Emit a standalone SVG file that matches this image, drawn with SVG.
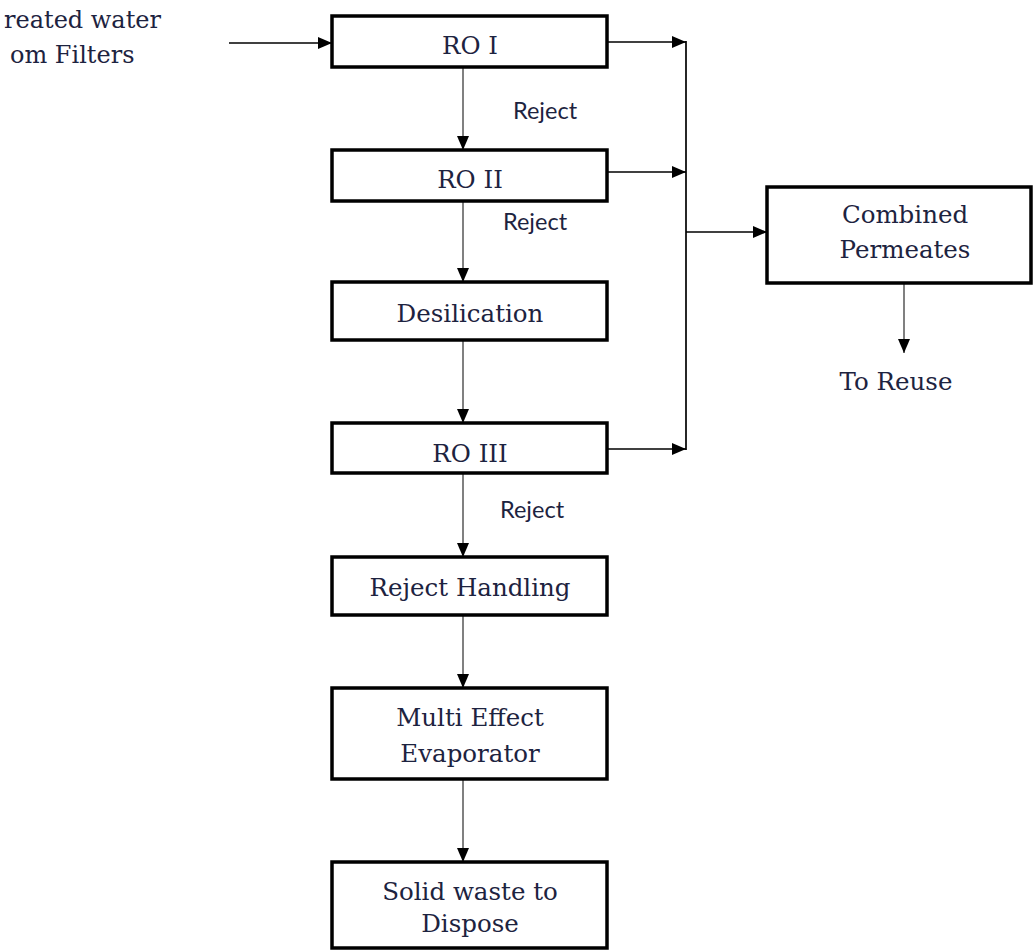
<svg xmlns="http://www.w3.org/2000/svg" width="1034" height="951" viewBox="0 0 1034 951">
<style>
.box{fill:#fff;stroke:#000;stroke-width:3.5}
.t{font-family:"DejaVu Serif","Liberation Serif",serif;font-size:24.5px;fill:#1d2340;text-anchor:middle}
.tl{font-family:"DejaVu Serif","Liberation Serif",serif;font-size:24px;fill:#1d2340}
.r{font-family:Lato,"Liberation Sans",sans-serif;font-size:23.5px;fill:#1d2340}
.v{stroke:#6a6a6a;stroke-width:1.7;fill:none}
.h{stroke:#000;stroke-width:1.7;fill:none}
</style>
<defs>
<marker id="ah" viewBox="0 0 14 12" refX="14" refY="6" markerWidth="14" markerHeight="12" markerUnits="userSpaceOnUse" orient="auto">
<path d="M0,0 L14,6 L0,12 z" fill="#000"/>
</marker>
</defs>
<g id="input">
<text class="tl" x="4" y="28">reated water</text>
<text class="tl" x="10" y="63">om Filters</text>
</g>
<g id="connectors">
<path class="h" d="M229,43 H332" marker-end="url(#ah)"/>
<path class="h" d="M607,42 H686" marker-end="url(#ah)"/>
<path class="h" d="M607,172 H686" marker-end="url(#ah)"/>
<path class="h" d="M607,449 H686" marker-end="url(#ah)"/>
<path class="h" d="M686,41 V450"/>
<path class="h" d="M686,232 H767" marker-end="url(#ah)"/>
<path class="v" d="M463,67 V150" marker-end="url(#ah)"/>
<path class="v" d="M463,201 V282" marker-end="url(#ah)"/>
<path class="v" d="M463,340 V423" marker-end="url(#ah)"/>
<path class="v" d="M463,473 V557" marker-end="url(#ah)"/>
<path class="v" d="M463,615 V688" marker-end="url(#ah)"/>
<path class="v" d="M463,779 V862" marker-end="url(#ah)"/>
<path class="v" d="M904,283 V353" marker-end="url(#ah)"/>
<text class="r" x="513" y="119">Reject</text>
<text class="r" x="503" y="230">Reject</text>
<text class="r" x="500" y="518">Reject</text>
</g>
<g id="ro1"><rect class="box" x="332" y="16" width="275" height="51"/><text class="t" x="470" y="54">RO I</text></g>
<g id="ro2"><rect class="box" x="332" y="150" width="275" height="51"/><text class="t" x="470" y="188">RO II</text></g>
<g id="desil"><rect class="box" x="332" y="282" width="275" height="58"/><text class="t" x="470" y="322">Desilication</text></g>
<g id="ro3"><rect class="box" x="332" y="423" width="275" height="50"/><text class="t" x="470" y="462">RO III</text></g>
<g id="rejh"><rect class="box" x="332" y="557" width="275" height="58"/><text class="t" x="470" y="596">Reject Handling</text></g>
<g id="mee"><rect class="box" x="332" y="688" width="275" height="91"/><text class="t" x="470" y="726">Multi Effect</text><text class="t" x="470" y="762">Evaporator</text></g>
<g id="solid"><rect class="box" x="332" y="862" width="275" height="86"/><text class="t" x="470" y="900">Solid waste to</text><text class="t" x="470" y="932">Dispose</text></g>
<g id="comb"><rect class="box" x="767" y="187" width="264" height="96"/><text class="t" x="905" y="223">Combined</text><text class="t" x="905" y="258">Permeates</text></g>
<g id="reuse"><text class="t" x="896" y="390">To Reuse</text></g>
</svg>
